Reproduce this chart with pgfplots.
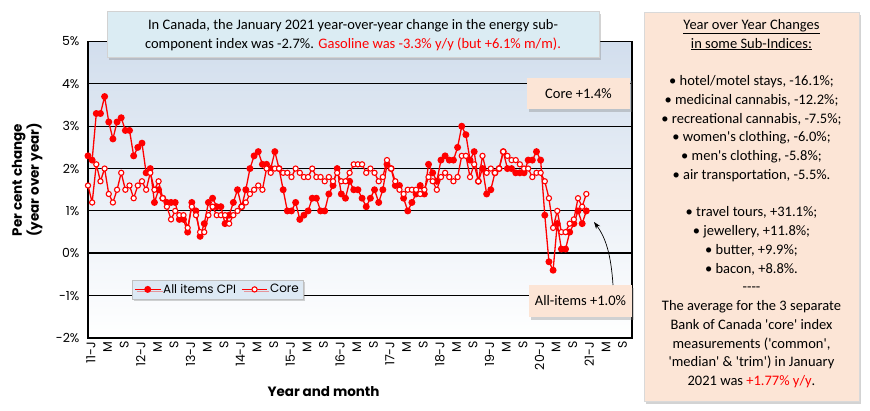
\documentclass[border=0pt]{standalone}
\usepackage{pgfplots}
\pgfplotsset{compat=1.18}
\usepackage{pgfplotstable}
\usepackage{fontspec}
\setmainfont{Carlito}[Ligatures=TeXOff]
\newfontfamily\gothic{Poppins}
\usetikzlibrary{shadows,arrows.meta}
\definecolor{peach}{RGB}{252,229,214}
\definecolor{lblue}{RGB}{219,236,243}
\definecolor{legblue}{RGB}{221,233,244}
\definecolor{bgtop}{RGB}{210,222,237}
\definecolor{cpired}{RGB}{255,0,0}

\pgfplotstableread{
i all core
0 2.3 1.6
1 2.2 1.2
2 3.3 2.1
3 3.3 1.7
4 3.7 2.0
5 3.1 1.4
6 2.7 1.2
7 3.1 1.5
8 3.2 1.9
9 2.9 1.5
10 2.9 1.6
11 2.3 1.3
12 2.5 1.6
13 2.6 1.7
14 1.9 1.5
15 2.0 1.9
16 1.2 1.5
17 1.5 1.7
18 1.3 1.3
19 1.2 1.1
20 1.2 0.8
21 1.2 1.0
22 0.8 0.9
23 0.8 0.9
24 0.5 0.6
25 1.2 1.1
26 1.0 0.9
27 0.4 0.5
28 0.7 0.5
29 1.2 0.9
30 1.3 1.1
31 1.1 0.9
32 1.1 0.9
33 0.7 0.9
34 0.9 0.7
35 1.2 0.9
36 1.5 1.0
37 1.1 1.1
38 1.5 1.2
39 2.0 1.4
40 2.3 1.5
41 2.4 1.6
42 2.1 1.5
43 2.1 2.0
44 2.0 1.9
45 2.4 2.0
46 2.0 2.0
47 1.5 1.9
48 1.0 1.9
49 1.0 1.8
50 1.2 2.0
51 0.8 1.9
52 0.9 1.8
53 1.0 1.8
54 1.3 2.0
55 1.3 1.8
56 1.0 1.8
57 1.0 1.7
58 1.4 1.8
59 1.6 1.7
60 2.0 1.9
61 1.4 1.7
62 1.3 1.7
63 1.7 1.9
64 1.5 2.1
65 1.5 2.1
66 1.3 2.1
67 1.1 1.9
68 1.3 2.0
69 1.5 1.9
70 1.2 1.7
71 1.5 1.8
72 2.1 2.2
73 2.0 2.0
74 1.6 1.7
75 1.6 1.5
76 1.3 1.4
77 1.0 1.5
78 1.2 1.5
79 1.4 1.5
80 1.6 1.4
81 1.4 1.5
82 2.1 1.8
83 1.9 1.7
84 1.7 1.5
85 2.2 1.8
86 2.3 1.9
87 2.2 1.8
88 2.2 1.7
89 2.5 1.8
90 3.0 2.3
91 2.8 2.3
92 2.2 1.8
93 2.4 2.1
94 1.7 1.7
95 2.0 2.3
96 1.4 1.9
97 1.5 2.0
98 1.9 1.9
99 2.0 2.0
100 2.4 2.4
101 2.0 2.3
102 2.0 2.2
103 1.9 2.2
104 1.9 2.1
105 1.9 2.0
106 2.2 2.0
107 2.2 1.8
108 2.4 1.9
109 2.2 1.9
110 0.9 1.7
111 -0.2 1.3
112 -0.4 0.6
113 0.7 1.0
114 0.1 0.5
115 0.1 0.5
116 0.5 0.7
117 0.7 0.8
118 1.0 1.3
119 0.7 1.1
120 1.0 1.4
}\cpidata

\begin{document}
\begin{tikzpicture}
\path[use as bounding box] (0,0) rectangle (870pt,410pt);
\begin{axis}[
  at={(88pt,72pt)}, anchor=south west,
  width=544pt, height=296.5pt, scale only axis,
  xmin=0, xmax=131, ymin=-2, ymax=5,
  axis background/.style={shade, top color=bgtop, middle color=white, bottom color=white},
  axis line style={black, line width=1.4pt},
  ytick={-2,-1,0,1,2,3,4,5},
  yticklabels={-2\%,-1\%,0\%,1\%,2\%,3\%,4\%,5\%},
  ymajorgrids,
  grid style={black, line width=1.1pt},
  extra y ticks={0},
  extra y tick labels={},
  extra y tick style={grid style={black, line width=2.4pt}, major tick length=0pt},
  xtick={0,4,...,128},
  xticklabels={11-J,M,S,12-J,M,S,13-J,M,S,14-J,M,S,15-J,M,S,16-J,M,S,17-J,M,S,18-J,M,S,19-J,M,S,20-J,M,S,21-J,M,S},
  major tick length=0pt,
  tick label style={font=\gothic\fontsize{12.5}{14}\selectfont},
  yticklabel style={xshift=-5pt},
  xticklabel style={rotate=90, anchor=east, yshift=-3pt},
  ylabel={Per cent change\\(year over year)},
  ylabel style={font=\gothic\bfseries\fontsize{13.5}{16}\selectfont, align=center, at={(axis description cs:-0.112,0.533)}, anchor=center, rotate=0},
  xlabel={Year and month},
  xlabel style={font=\gothic\bfseries\fontsize{13.5}{16}\selectfont, at={(axis description cs:0.433,-0.182)}, anchor=center},
  legend style={at={(0.081,0.196)}, anchor=north west, fill=legblue, draw=gray!50, drop shadow={shadow xshift=2pt, shadow yshift=-2pt, opacity=0.35}, font=\gothic\fontsize{12}{14}\selectfont, inner sep=2pt},
  legend columns=2,
  legend cell align=left,
  /tikz/every even column/.append style={column sep=3pt},
  legend image code/.code={
    \draw[#1, mark repeat=2, mark phase=2] plot coordinates {(0cm,0cm) (0.45cm,0cm) (0.9cm,0cm)};
  },
]
\addplot[cpired, line width=1.3pt, mark=*, mark size=2.8pt, mark options={fill=cpired, draw=cpired}] table[x=i, y=all] {\cpidata};
\addlegendentry{All items CPI}
\addplot[cpired, line width=1.3pt, mark=*, mark size=2.6pt, mark options={fill=white, draw=cpired, line width=1.1pt}] table[x=i, y=core] {\cpidata};
\addlegendentry{Core}
\end{axis}

\begin{scope}[x=1pt, y=-1pt, shift={(0pt,410pt)}]
% top blue box
\fill[lblue, drop shadow={shadow xshift=2pt, shadow yshift=-3pt, opacity=0.35}] (107,11) rectangle (599,57);
\draw[gray!35] (107,11) rectangle (599,57);
\node[align=center, font=\fontsize{14.5}{18.5}\selectfont] at (353,35)
  {In Canada, the January 2021 year-over-year change in the energy sub-\\component index was -2.7\%. \textcolor{cpired}{Gasoline was -3.3\% y/y (but +6.1\% m/m).}};
% core box
\fill[peach, drop shadow={shadow xshift=2pt, shadow yshift=-3pt, opacity=0.35}] (527,78) rectangle (630,109);
\node[font=\fontsize{14.5}{17}\selectfont] at (578.5,93.5) {Core +1.4\%};
% all-items box
\fill[peach, drop shadow={shadow xshift=2pt, shadow yshift=-3pt, opacity=0.35}] (529,285) rectangle (632,317);
\node[font=\fontsize{14.5}{17}\selectfont] at (580.5,301) {All-items +1.0\%};
% arrow
\draw[-{Stealth[length=7pt,width=5pt]}, line width=0.7pt] (613,285) .. controls (611,255) and (606,238) .. (594,222);
% right box
\fill[peach, drop shadow={shadow xshift=2pt, shadow yshift=-3pt, opacity=0.35}] (644,12) rectangle (859,401);
\draw[gray!30] (644,12) rectangle (859,401);
\node[anchor=north, align=center, font=\fontsize{14.5}{18.75}\selectfont, inner sep=0pt] at (751.5,19)
  {\underline{Year over Year Changes}\\
   \underline{in some Sub-Indices:}\\[18.75pt]
   • hotel/motel stays, -16.1\%;\\
   • medicinal cannabis, -12.2\%;\\
   • recreational cannabis, -7.5\%;\\
   • women's clothing, -6.0\%;\\
   • men's clothing, -5.8\%;\\
   • air transportation, -5.5\%.\\[18.75pt]
   • travel tours, +31.1\%;\\
   • jewellery, +11.8\%;\\
   • butter, +9.9\%;\\
   • bacon, +8.8\%.\\
   ----\\
   The average for the 3 separate\\
   Bank of Canada 'core' index\\
   measurements ('common',\\
   'median' \& 'trim') in January\\
   2021 was \textcolor{cpired}{+1.77\% y/y}.};
\end{scope}
\end{tikzpicture}
\end{document}
